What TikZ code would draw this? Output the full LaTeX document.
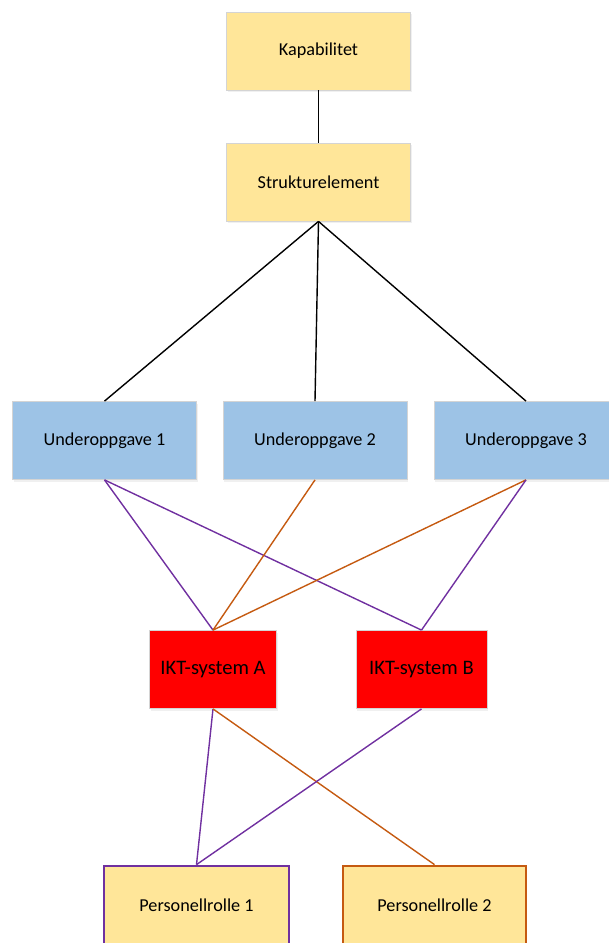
\documentclass[tikz,border=0pt]{standalone}
\usepackage{fontspec}
\setmainfont{Carlito}
\usetikzlibrary{shadows}
\definecolor{boxyellow}{HTML}{FFE699}
\definecolor{boxblue}{HTML}{9DC3E6}
\definecolor{boxred}{HTML}{FF0000}
\definecolor{edgegrey}{HTML}{D4D4D4}
\definecolor{linkpurple}{HTML}{7030A0}
\definecolor{linkorange}{HTML}{C55A11}
\tikzset{
  box/.style={draw=edgegrey, line width=0.8pt, minimum width=184pt, minimum height=78pt,
    inner sep=0pt, font=\fontsize{18.2}{21}\selectfont,
    drop shadow={opacity=0.12, shadow xshift=1pt, shadow yshift=-2pt}},
  capbox/.style={box, fill=boxyellow},
  taskbox/.style={box, fill=boxblue},
  sysbox/.style={box, fill=boxred, minimum width=127pt, font=\fontsize{20.6}{24}\selectfont},
  rolebox/.style={box, fill=boxyellow, line width=2.8pt},
  link/.style={line width=1.4pt},
  plink/.style={link, draw=linkpurple},
  olink/.style={link, draw=linkorange},
}
\begin{document}
\begin{tikzpicture}[x=1pt, y=-1pt]
\useasboundingbox (0,0) rectangle (609,943);

% Top of the hierarchy
\node[capbox] (kap) at (318.5,51) {Kapabilitet};
\node[capbox] (struk) at (318.5,182) {Strukturelement};

% Sub-tasks
\node[taskbox] (u1) at (104.5,440.5) {Underoppgave 1};
\node[taskbox] (u2) at (315,440.5) {Underoppgave 2};
\node[taskbox] (u3) at (526,440.5) {Underoppgave 3};

% ICT systems
\node[sysbox] (ikta) at (213,669.5) {IKT-system A};
\node[sysbox, minimum width=131pt] (iktb) at (421.5,669.5) {IKT-system B};

% Personnel roles
\node[rolebox, draw=linkpurple, minimum width=185pt] (p1) at (196.5,905) {Personellrolle 1};
\node[rolebox, draw=linkorange, minimum width=183pt] (p2) at (434.5,905) {Personellrolle 2};

% Structure links
\draw[link] (kap.south) -- (struk.north);
\draw[link] (struk.south) -- (u1.north);
\draw[link] (struk.south) -- (u2.north);
\draw[link] (struk.south) -- (u3.north);

% Task to system links
\draw[plink] (u1.south) -- (ikta.north);
\draw[plink] (u1.south) -- (iktb.north);
\draw[olink] (u2.south) -- (ikta.north);
\draw[olink] (u3.south) -- (ikta.north);
\draw[plink] (u3.south) -- (iktb.north);

% System to role links
\draw[plink] (ikta.south) -- (p1.north);
\draw[olink] (ikta.south) -- (p2.north);
\draw[plink] (iktb.south) -- (p1.north);
\end{tikzpicture}
\end{document}
